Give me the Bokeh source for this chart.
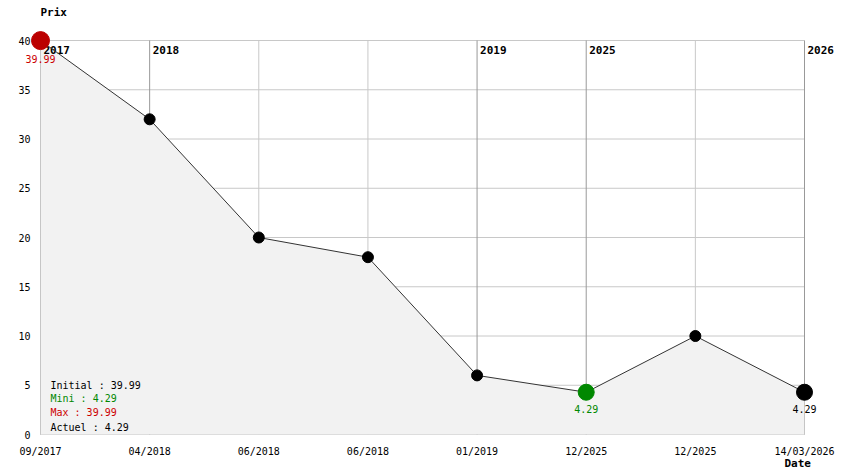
from bokeh.plotting import figure
from bokeh.models import Range1d
from bokeh.core.properties import value
from bokeh.embed import file_html
from bokeh.resources import INLINE

# ---- data ----
dates = ["09/2017", "04/2018", "06/2018", "06/2018", "01/2019", "12/2025", "12/2025", "14/03/2026"]
prices = [39.99, 32, 20, 18, 6, 4.29, 10, 4.29]
year_labels = ["2017", "2018", "", "", "2019", "2025", "", "2026"]
y_ticks = [0, 5, 10, 15, 20, 25, 30, 35, 40]
legend_lines = ["Initial : 39.99", "Mini : 4.29", "Max : 39.99", "Actuel : 4.29"]
legend_colors = ["#000000", "#008800", "#cc0000", "#000000"]

# ---- layout ----
W, H = 844, 474
left, right, top, bottom = 40, 40, 40, 40
n = len(dates)
xs = (W - left - right) / (n - 1)
ymax = 40
ys = (H - top - bottom) / ymax

p = figure(width=W, height=H, output_backend="svg", toolbar_location=None,
           x_range=Range1d(-left / xs, (n - 1) + right / xs),
           y_range=Range1d(-bottom / ys, ymax + top / ys),
           x_axis_location=None, y_axis_location=None, min_border=0)
p.outline_line_color = None
p.xgrid.visible = False
p.ygrid.visible = False
p.background_fill_color = "white"
p.border_fill_color = "white"

xi = list(range(n))
MONO = value("DejaVu Sans Mono")

# horizontal grid lines
p.segment(x0=[0] * len(y_ticks), x1=[n - 1] * len(y_ticks), y0=y_ticks, y1=y_ticks,
          line_color="#c8c8c8", line_width=1)
# vertical grid lines
vcol = ["#999999" if year_labels[i] else "#c8c8c8" for i in xi]
p.segment(x0=xi, x1=xi, y0=[0] * n, y1=[ymax] * n, line_color=vcol, line_width=1)

# fill under curve
p.varea(x=xi, y1=[0] * n, y2=prices, fill_color="#f2f2f2")

# year labels
p.text(x=xi, y=[ymax] * n, text=year_labels, x_offset=3, y_offset=5,
       text_font=MONO, text_font_style="bold", text_font_size="11px",
       text_baseline="top", text_align="left", text_color="black")

# line
p.line(x=xi, y=prices, line_color="#333333", line_width=1)

# markers
p.scatter(x=xi[1:-1], y=prices[1:-1], size=11, fill_color="black", line_color="black")
imin = 5
p.scatter(x=[imin], y=[prices[imin]], size=16, fill_color="#008800", line_color="#008800")
p.scatter(x=[0], y=[prices[0]], size=18, fill_color="#bb0000", line_color="#bb0000")
p.scatter(x=[n - 1], y=[prices[-1]], size=16, fill_color="black", line_color="black")

# value labels
p.text(x=[0], y=[prices[0]], text=["%.2f" % prices[0]], y_offset=14, text_align="center",
       text_baseline="top", text_font=MONO, text_font_size="10px", text_color="#cc0000")
p.text(x=[imin], y=[prices[imin]], text=["%.2f" % prices[imin]], y_offset=13, text_align="center",
       text_baseline="top", text_font=MONO, text_font_size="10px", text_color="#008800")
p.text(x=[n - 1], y=[prices[-1]], text=["%.2f" % prices[-1]], y_offset=13, text_align="center",
       text_baseline="top", text_font=MONO, text_font_size="10px", text_color="black")

# y tick labels
p.text(x=[0] * len(y_ticks), y=y_ticks, text=[str(t) for t in y_ticks], x_offset=-10,
       text_align="right", text_baseline="middle", text_font=MONO, text_font_size="10px",
       text_color="black")
# x tick labels
p.text(x=xi, y=[0] * n, text=dates, y_offset=17, text_align="center", text_baseline="middle",
       text_font=MONO, text_font_size="10px", text_color="black")

# axis titles
p.text(x=[0], y=[ymax], text=["Prix"], y_offset=-28, text_align="left", text_baseline="middle",
       text_font=MONO, text_font_style="bold", text_font_size="11px", text_color="black")
p.text(x=[n - 1], y=[0], text=["Date"], x_offset=-20, y_offset=29, text_align="left",
       text_baseline="middle", text_font=MONO, text_font_style="bold", text_font_size="11px",
       text_color="black")

# legend block
p.text(x=[0] * 4, y=[0] * 4, text=legend_lines, x_offset=10,
       y_offset=[-49, -36, -22, -7], text_align="left", text_baseline="middle",
       text_font=MONO, text_font_size="10px", text_color=legend_colors)

open("out.html", "w").write(file_html(p, INLINE))
